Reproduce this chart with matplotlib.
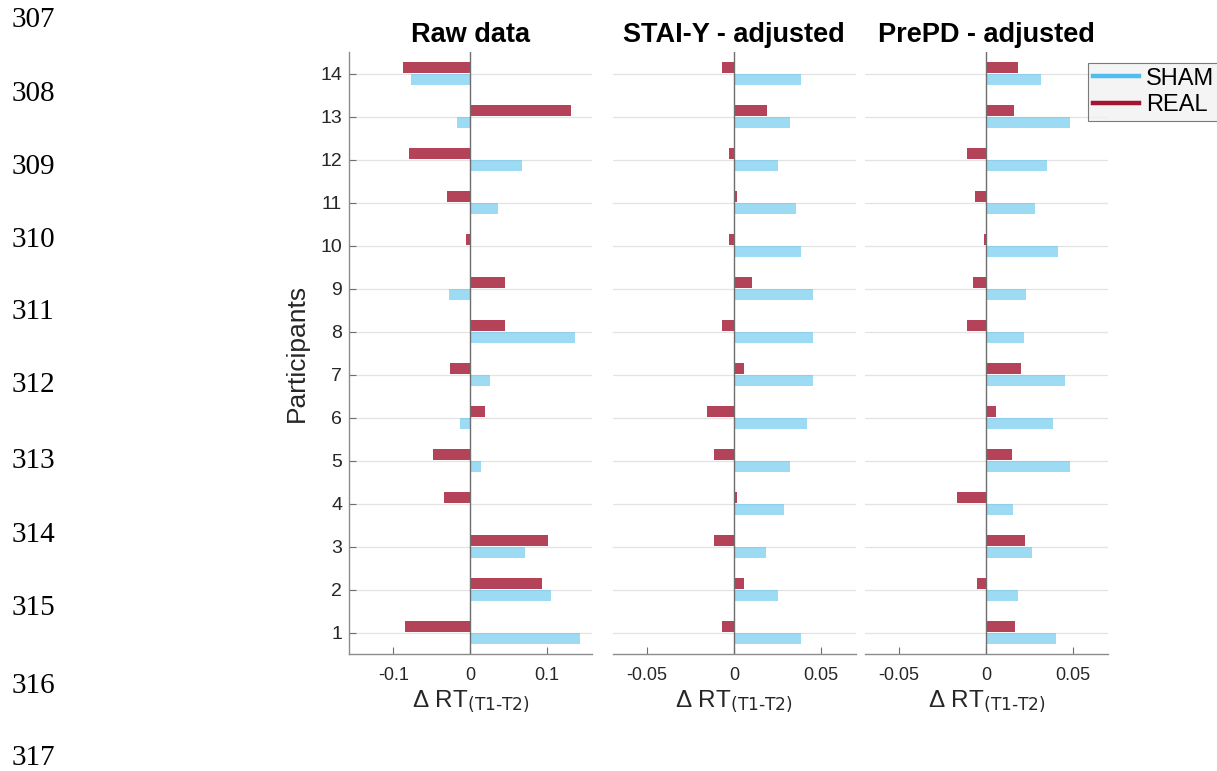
import matplotlib
matplotlib.use("Agg")
import matplotlib.pyplot as plt
import numpy as np
from matplotlib.lines import Line2D

plt.rcParams['font.family'] = ['Liberation Sans', 'DejaVu Sans']
plt.rcParams['mathtext.default'] = 'regular'

participants = list(range(1, 15))

titles = ["Raw data", "STAI-Y - adjusted", "PrePD - adjusted"]

# values listed for participants 1..14
raw_sham = [0.143, 0.106, 0.071, 0.001, 0.014, -0.0135, 0.0265, 0.1365, -0.027, 0.0, 0.037, 0.068, -0.017, -0.0765]
raw_real = [-0.085, 0.094, 0.101, -0.034, -0.048, 0.019, -0.0257, 0.0456, 0.045, -0.0056, -0.030, -0.080, 0.1317, -0.088]

stai_sham = [0.0387, 0.0251, 0.0184, 0.0286, 0.032, 0.0421, 0.0456, 0.0456, 0.0456, 0.0387, 0.0355, 0.0251, 0.032, 0.0387]
stai_real = [-0.0069, 0.0059, -0.0113, 0.0015, -0.0113, -0.0155, 0.0059, -0.0069, 0.0102, -0.0027, 0.0015, -0.0027, 0.0188, -0.0069]

prepd_sham = [0.0404, 0.0182, 0.0266, 0.0157, 0.0483, 0.0387, 0.0452, 0.022, 0.0228, 0.0412, 0.028, 0.0349, 0.0483, 0.0316]
prepd_real = [0.0165, -0.0052, 0.0224, -0.0167, 0.0151, 0.0056, 0.0203, -0.0111, -0.0077, -0.0013, -0.0065, -0.0111, 0.0161, 0.0186]

xlims = [(-0.158, 0.159), (-0.0697, 0.0700), (-0.0695, 0.0700)]
xticks = [[-0.1, 0, 0.1], [-0.05, 0, 0.05], [-0.05, 0, 0.05]]
xticklabels = [["-0.1", "0", "0.1"], ["-0.05", "0", "0.05"], ["-0.05", "0", "0.05"]]

line_numbers = [str(n) for n in range(307, 318)]

SHAM_C = '#4DBEEE'
REAL_C = '#A2142F'

fig = plt.figure(figsize=(12.17, 7.71), dpi=100)

lefts = [349/1217, 612.7/1217, 865/1217]
width = 243/1217
bottom = (771-654)/771
height = 602/771

data = [(raw_sham, raw_real), (stai_sham, stai_real), (prepd_sham, prepd_real)]
y = np.array(participants)
bh = 0.235
for i, (sham, real) in enumerate(data):
    ax = fig.add_axes([lefts[i], bottom, width, height])
    ax.set_ylim(0.5, 14.5)
    ax.set_xlim(*xlims[i])
    for yy in participants:
        ax.axhline(yy, color='#E3E3E3', lw=0.9, zorder=0)
    ax.barh(y + 0.14, real, height=bh, color=REAL_C, alpha=0.8, lw=0, zorder=2)
    ax.barh(y - 0.14, sham, height=bh, color=SHAM_C, alpha=0.55, lw=0, zorder=2)
    ax.axvline(0, color='#6E6E6E', lw=1.0, zorder=3)
    for s in ['top', 'right']:
        ax.spines[s].set_visible(False)
    ax.spines['bottom'].set_color('#8C8C8C')
    ax.spines['bottom'].set_linewidth(1.0)
    ax.set_xticks(xticks[i])
    ax.set_xticklabels(xticklabels[i])
    ax.tick_params(axis='x', direction='in', length=5, color='#6E6E6E', labelsize=13, pad=9, labelcolor='#262626')
    if i == 0:
        ax.spines['left'].set_color('#8C8C8C')
        ax.spines['left'].set_linewidth(1.0)
        ax.set_yticks(participants)
        ax.tick_params(axis='y', direction='in', length=5, color='#6E6E6E', labelsize=14, pad=5, labelcolor='#262626')
        ax.set_ylabel('Participants', fontsize=19, labelpad=8, color='#262626')
    else:
        ax.spines['left'].set_visible(False)
        ax.set_yticks([])
    ax.set_title(titles[i], fontsize=19.5, fontweight='bold', pad=7)
    ax.set_xlabel('\u0394 RT$_{\\text{(T1-T2)}}$', fontsize=17.5, labelpad=4, color='#262626')
    ax.set_facecolor('none')

# legend
handles = [Line2D([0], [0], color=SHAM_C, lw=3.2), Line2D([0], [0], color=REAL_C, lw=3.2)]
leg = fig.legend(handles, ['SHAM', 'REAL'], loc='upper left', bbox_to_anchor=(1088/1217, 1 - 63/771),
                 fontsize=17, frameon=True, fancybox=False, handlelength=1.95, handletextpad=0.3,
                 borderpad=0.2, labelspacing=0.2, borderaxespad=0)
leg.get_frame().set_facecolor('#F2F2F2')
leg.get_frame().set_edgecolor('#5A5A5A')
leg.get_frame().set_linewidth(0.8)

# manuscript line numbers
ys = [20, 94, 167, 240, 312, 385, 461, 535, 608, 686, 758]
for lab, yy in zip(line_numbers, ys):
    fig.text(12/1217, 1 - yy/771, lab, fontsize=21, family=['Liberation Serif', 'DejaVu Serif'],
             va='center', ha='left')

fig.savefig('out.png', dpi=100)
